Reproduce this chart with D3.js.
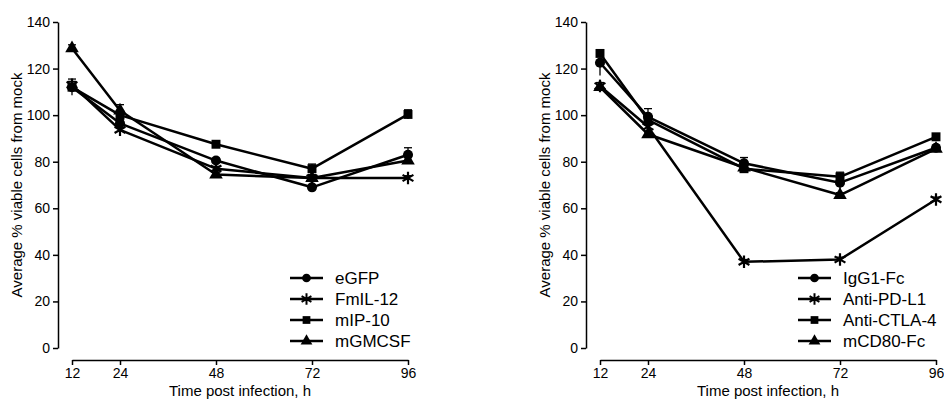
<!DOCTYPE html>
<html>
<head>
<meta charset="utf-8">
<script src="https://cdn.jsdelivr.net/npm/d3@7"></script>
<style>
body { margin: 0; background: #fff; }
svg text { font-family: "Liberation Sans", Arial, sans-serif; fill: #000; }
</style>
</head>
<body>
<svg id="chart" width="944" height="403"></svg>
<script>
var hours = [12, 24, 48, 72, 96];
var yTicks = [0, 20, 40, 60, 80, 100, 120, 140];

// left panel
var leftNames = ["eGFP", "FmIL-12", "mIP-10", "mGMCSF"];
var eGFP = [112, 96.5, 80.5, 69, 83];
var FmIL12 = [113, 93.7, 77, 73, 73];
var mIP10 = [112, 100, 87.5, 77, 100.3];
var mGMCSF = [128.7, 102, 74.5, 73, 80.5];
var eGFPErr = [3.5, 1.5, 1, 1, 3];
var FmIL12Err = [1.5, 1, 1, 1.5, 1];
var mIP10Err = [1, 1, 1, 2, 2];
var mGMCSFErr = [1.5, 2.5, 1, 1, 1.5];

// right panel
var rightNames = ["IgG1-Fc", "Anti-PD-L1", "Anti-CTLA-4", "mCD80-Fc"];
var IgG1Fc = [122.5, 99.3, 79.3, 71, 86];
var antiPDL1 = [112.5, 95, 37, 38, 63.8];
var antiCTLA4 = [126.5, 98, 77, 73.5, 90.7];
var mCD80Fc = [112, 91.8, 77.5, 65.7, 85.5];
var IgG1FcErr = [5.5, 3.5, 2.5, 3, 1];
var antiPDL1Err = [1.5, 1, 1, 1, 1];
var antiCTLA4Err = [1, 1, 1, 2, 1];
var mCD80FcErr = [1, 1, 1, 1, 1];

var markers = [d3.symbolCircle, d3.symbolAsterisk, d3.symbolSquare, d3.symbolTriangle];

var svg = d3.select("#chart");

function panel(offset, names, series, errs) {
    var g = svg.append("g").attr("transform", "translate(" + offset + ",0)");
    var x = d3.scaleLinear().domain([12, 96]).range([72, 408]);
    var y = d3.scaleLinear().domain([0, 140]).range([348, 22]);

    var ya = g.append("g")
            .attr("transform", "translate(58,0)")
            .call(d3.axisLeft(y).tickValues(yTicks).tickSize(5).tickSizeOuter(0).tickPadding(3));
    ya.select(".domain").attr("stroke-width", 1.5);
    ya.selectAll(".tick line").attr("stroke-width", 1.5);
    ya.selectAll("text").attr("font-size", 14).style("font-family", "Liberation Sans, Arial, sans-serif");

    var xa = g.append("g")
            .attr("transform", "translate(0,360)")
            .call(d3.axisBottom(x).tickValues(hours).tickSize(5).tickSizeOuter(0).tickPadding(3));
    xa.select(".domain").attr("stroke-width", 1.5);
    xa.selectAll(".tick line").attr("stroke-width", 1.5);
    xa.selectAll("text").attr("font-size", 14).style("font-family", "Liberation Sans, Arial, sans-serif");

    g.append("text")
            .attr("transform", "translate(22,185) rotate(-90)")
            .attr("text-anchor", "middle")
            .attr("font-size", 15)
            .text("Average % viable cells from mock");

    g.append("text")
            .attr("x", 240)
            .attr("y", 396)
            .attr("text-anchor", "middle")
            .attr("font-size", 15)
            .text("Time post infection, h");

    var line = d3.line()
            .x(function (d, i) { return x(hours[i]); })
            .y(function (d) { return y(d); });

    series.forEach(function (s, k) {
        g.append("path")
                .datum(s)
                .attr("fill", "none")
                .attr("stroke", "#000")
                .attr("stroke-width", 2.5)
                .attr("stroke-linejoin", "round")
                .attr("d", line);

        // error bars
        var eb = g.append("g").attr("stroke", "#000").attr("stroke-width", 1.3);
        s.forEach(function (v, i) {
            var cx = x(hours[i]);
            eb.append("line")
                    .attr("x1", cx).attr("x2", cx)
                    .attr("y1", y(v - errs[k][i])).attr("y2", y(v + errs[k][i]));
            eb.append("line")
                    .attr("x1", cx - 4).attr("x2", cx + 4)
                    .attr("y1", y(v + errs[k][i])).attr("y2", y(v + errs[k][i]));
        });

        g.append("g").selectAll("path")
                .data(s)
                .enter()
                .append("path")
                .attr("transform", function (d, i) {
                    return "translate(" + x(hours[i]) + "," + y(d) + ")";
                })
                .attr("d", d3.symbol().type(markers[k]).size(k === 1 ? 110 : 80))
                .attr("fill", k === 1 ? "none" : "#000")
                .attr("stroke", "#000")
                .attr("stroke-width", k === 1 ? 2.2 : 0);
    });

    // legend
    var lg = g.append("g");
    var lx = offset === 0 ? 290 : 270;
    names.forEach(function (n, k) {
        var ly = 278 + k * 21;
        lg.append("line")
                .attr("x1", lx).attr("x2", lx + 33)
                .attr("y1", ly).attr("y2", ly)
                .attr("stroke", "#000").attr("stroke-width", 2.5);
        lg.append("path")
                .attr("transform", "translate(" + (lx + 16.5) + "," + ly + ")")
                .attr("d", d3.symbol().type(markers[k]).size(k === 1 ? 90 : 60))
                .attr("fill", k === 1 ? "none" : "#000")
                .attr("stroke", "#000")
                .attr("stroke-width", k === 1 ? 2 : 0);
        lg.append("text")
                .attr("x", lx + 45)
                .attr("y", ly + 6)
                .attr("font-size", 17)
                .text(n);
    });
}

panel(0, leftNames, [eGFP, FmIL12, mIP10, mGMCSF], [eGFPErr, FmIL12Err, mIP10Err, mGMCSFErr]);
panel(528, rightNames, [IgG1Fc, antiPDL1, antiCTLA4, mCD80Fc], [IgG1FcErr, antiPDL1Err, antiCTLA4Err, mCD80FcErr]);
</script>
</body>
</html>
